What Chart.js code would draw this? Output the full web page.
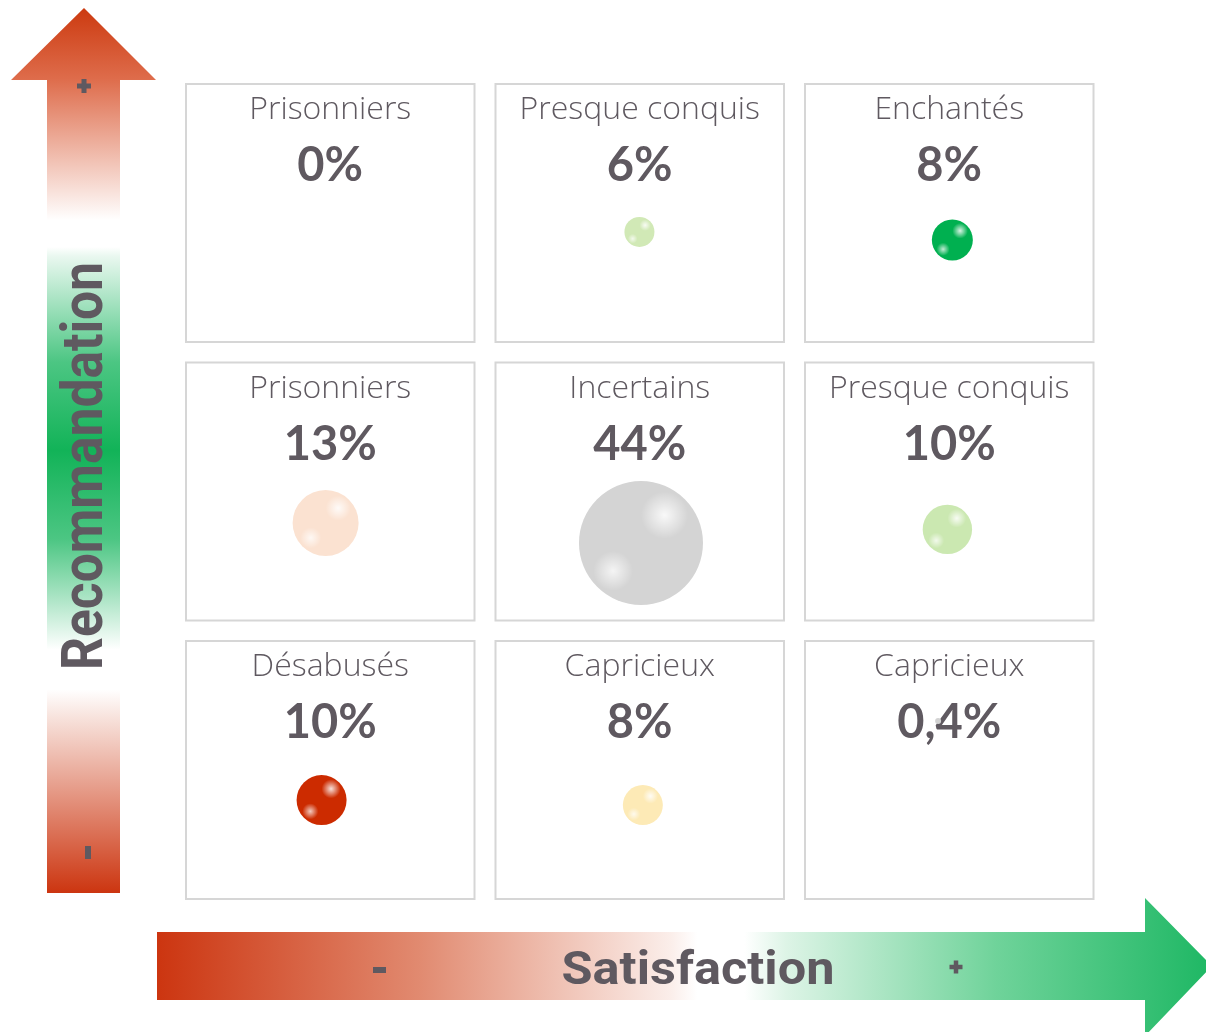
<html>
<head>
<meta charset="utf-8">
<script src="https://cdn.jsdelivr.net/npm/chart.js@4.4.1/dist/chart.umd.min.js"></script>
<style>
body { margin: 0; background: #fff; }
#wrap { width: 1206px; height: 1032px; }
</style>
</head>
<body>
<div id="wrap"><canvas id="myChart"></canvas></div>
<script>
// cells read row by row, top row first (high recommendation)
var segments = ['Prisonniers', 'Presque conquis', 'Enchantés',
                'Prisonniers', 'Incertains', 'Presque conquis',
                'Désabusés', 'Capricieux', 'Capricieux'];
var shareLabels = ['0%', '6%', '8%', '13%', '44%', '10%', '10%', '8%', '0,4%'];
var shareValues = [0, 6, 8, 13, 44, 10, 10, 8, 0.4];
// bubble centre in grid units (x: satisfaction 0..3, y: recommandation 0..3) and bubble radius
var bubbleX = [0.5, 1.499, 2.510, 0.485, 1.504, 2.494, 0.472, 1.510, 2.464];
var bubbleY = [2.4, 2.432, 2.403, 1.387, 1.315, 1.364, 0.392, 0.374, 0.676];
var bubbleR = [0, 15, 20.5, 33, 62, 24.7, 25, 20, 3];
var bubbleColors = ['#ffffff', '#d1e9b6', '#00b050', '#fbe2d1', '#d4d4d4',
                    '#cbe8b1', '#cc2b00', '#fdeab6', '#d2d2d2'];

var textColor = '#5f5960';

function mixStops(g, stops) {
  stops.forEach(function (s) { g.addColorStop(s[0], s[1]); });
  return g;
}

function plus(ctx, x, y, size, thick) {
  ctx.fillRect(x - size / 2, y - thick / 2, size, thick);
  ctx.fillRect(x - thick / 2, y - size / 2, thick, size);
}

var backdrop = {
  id: 'backdrop',
  beforeDatasetsDraw: function (chart) {
    var ctx = chart.ctx, xs = chart.scales.x, ys = chart.scales.y;

    // vertical arrow (Recommandation)
    var gv = mixStops(ctx.createLinearGradient(0, 8, 0, 893), [
      [0, '#cc3a10'], [0.08, '#de6c4b'], [0.24, 'rgba(255,255,255,1)'],
      [0.27, '#ffffff'], [0.28, '#eaf8f0'], [0.40, '#4cc683'], [0.50, '#12b358'],
      [0.60, '#4cc683'], [0.725, '#ffffff'], [0.77, '#ffffff'], [0.80, '#f8e4de'], [1, '#cc3510']
    ]);
    ctx.save();
    ctx.fillStyle = gv;
    ctx.beginPath();
    ctx.moveTo(84, 8);
    ctx.lineTo(156, 80);
    ctx.lineTo(120, 80);
    ctx.lineTo(120, 893);
    ctx.lineTo(47, 893);
    ctx.lineTo(47, 80);
    ctx.lineTo(11, 80);
    ctx.closePath();
    ctx.fill();

    // horizontal arrow (Satisfaction)
    var gh = mixStops(ctx.createLinearGradient(157, 0, 1206, 0), [
      [0, '#cc3510'], [0.25, '#e18a70'], [0.49, '#fbeeea'], [0.515, '#ffffff'],
      [0.56, '#ffffff'], [0.60, '#ddf4e6'], [0.80, '#6fd39a'], [1, '#20b865']
    ]);
    ctx.fillStyle = gh;
    ctx.beginPath();
    ctx.moveTo(157, 932);
    ctx.lineTo(1145, 932);
    ctx.lineTo(1145, 898);
    ctx.lineTo(1212, 966);
    ctx.lineTo(1145, 1036);
    ctx.lineTo(1145, 1000);
    ctx.lineTo(157, 1000);
    ctx.closePath();
    ctx.fill();

    // axis titles
    ctx.fillStyle = textColor;
    ctx.font = 'bold 47px Roboto';
    ctx.textAlign = 'center';
    ctx.textBaseline = 'alphabetic';
    var w = ctx.measureText('Satisfaction').width;
    ctx.save();
    ctx.translate(698, 984);
    ctx.scale(273 / w, 1);
    ctx.fillText('Satisfaction', 0, 0);
    ctx.restore();

    ctx.font = 'bold 58px Roboto';
    w = ctx.measureText('Recommandation').width;
    ctx.save();
    ctx.translate(102, 466);
    ctx.rotate(-Math.PI / 2);
    ctx.scale(408 / w, 1);
    ctx.fillText('Recommandation', 0, 0);
    ctx.restore();

    // + / - marks
    plus(ctx, 84, 86, 14, 5);
    plus(ctx, 956, 967, 13, 4.5);
    ctx.fillRect(373, 967, 13, 6);
    ctx.fillRect(85, 846, 6, 13);

    // cells
    segments.forEach(function (name, i) {
      var col = i % 3, row = 2 - Math.floor(i / 3);
      var left = xs.getPixelForValue(col) + 10.5;
      var right = xs.getPixelForValue(col + 1) - 10.5;
      var top = ys.getPixelForValue(row + 1) + 10.25;
      var bottom = ys.getPixelForValue(row) - 10.25;
      ctx.fillStyle = '#ffffff';
      ctx.fillRect(left, top, right - left, bottom - top);
      ctx.strokeStyle = '#d6d6d6';
      ctx.lineWidth = 2;
      ctx.strokeRect(left, top, right - left, bottom - top);

      var cx = (left + right) / 2;
      ctx.fillStyle = textColor;
      ctx.textBaseline = 'alphabetic';
      ctx.font = '300 32px "Open Sans"';
      ctx.fillText(name, cx, top + 35);
      ctx.font = 'bold 47px Lato';
      ctx.fillText(shareLabels[i], cx, top + 97);
    });
    ctx.restore();
  },
  afterDatasetsDraw: function (chart) {
    // glossy glints on each bubble
    var ctx = chart.ctx;
    chart.getDatasetMeta(0).data.forEach(function (el) {
      var r = el.options.radius;
      if (r < 6) return;
      [[0.38, -0.45, 0.38, 0.85], [-0.45, 0.45, 0.32, 0.75]].forEach(function (h) {
        var hx = el.x + h[0] * r, hy = el.y + h[1] * r, hr = h[2] * r;
        var g = ctx.createRadialGradient(hx, hy, 0, hx, hy, hr);
        g.addColorStop(0, 'rgba(255,255,255,' + h[3] + ')');
        g.addColorStop(1, 'rgba(255,255,255,0)');
        ctx.save();
        ctx.beginPath();
        ctx.arc(el.x, el.y, r, 0, Math.PI * 2);
        ctx.clip();
        ctx.fillStyle = g;
        ctx.fillRect(hx - hr, hy - hr, hr * 2, hr * 2);
        ctx.restore();
      });
    });
  }
};

var points = shareValues.map(function (v, i) {
  return { x: bubbleX[i], y: bubbleY[i], r: bubbleR[i], v: v };
});

var ctx = document.getElementById('myChart').getContext('2d');
var myChart = new Chart(ctx, {
  type: 'bubble',
  data: {
    datasets: [{
      label: 'Part',
      data: points,
      backgroundColor: bubbleColors,
      borderWidth: 0,
      hoverRadius: 0
    }]
  },
  options: {
    responsive: true,
    maintainAspectRatio: false,
    animation: false,
    layout: { padding: { left: 175.5, right: 102, top: 73.75, bottom: 122.75 } },
    plugins: { legend: { display: false }, tooltip: { enabled: false } },
    scales: {
      x: { type: 'linear', min: 0, max: 3, display: false },
      y: { type: 'linear', min: 0, max: 3, display: false }
    }
  },
  plugins: [backdrop]
});
</script>
</body>
</html>
